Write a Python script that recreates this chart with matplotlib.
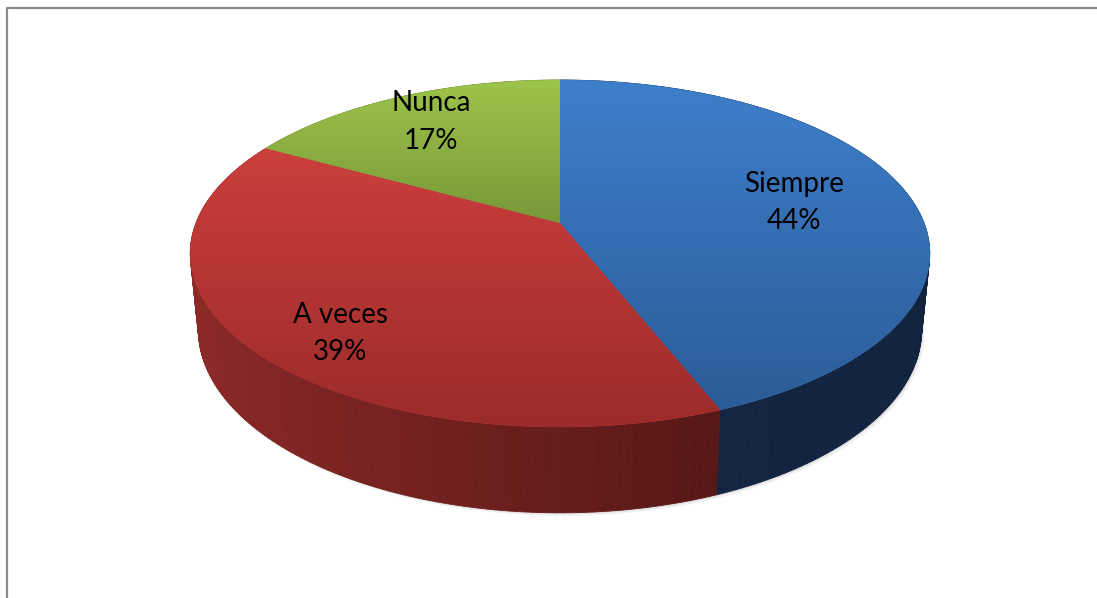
import numpy as np
import matplotlib
matplotlib.use("Agg")
import matplotlib.pyplot as plt
from matplotlib.colors import LinearSegmentedColormap
from matplotlib.patches import Polygon
from matplotlib.collections import PolyCollection

categories = ["Siempre", "A veces", "Nunca"]
percentages = [44, 39, 17]

# top face gradient (upper edge -> lower edge) and side gradient (left -> right)
top_light = ["#3e7fcb", "#cb3f3c", "#9dc44b"]
top_dark = ["#2c5c98", "#9b2b2a", "#789839"]
side_light = ["#15294a", "#8e2a27", "#5d7a2a"]
side_dark = ["#12233e", "#3d0f0f", "#3d5219"]
label_radius = [0.67, 0.8, 0.78]
label_turn = [0, -6, 0]  # degrees

W, H = 1097, 598
CX, CY = 560, 223
SCALE = 364
ELEV = np.radians(27.5)
DIST = 5.05
THICK = 0.239


def project(X, Y, Z):
    depth = Y * np.cos(ELEV) - Z * np.sin(ELEV)
    f = SCALE / (1 + depth / DIST)
    u = X * f
    v = (Y * np.sin(ELEV) + Z * np.cos(ELEV)) * f
    return CX + u, CY - v


def mix(c1, c2, t):
    a = np.array(matplotlib.colors.to_rgb(c1))
    b = np.array(matplotlib.colors.to_rgb(c2))
    return tuple(a * (1 - t) + b * t)


fig = plt.figure(figsize=(W / 100, H / 100), dpi=100)
ax = fig.add_axes([0, 0, 1, 1])
ax.set_xlim(0, W)
ax.set_ylim(H, 0)
ax.axis("off")

# chart area frame
ax.plot([7, 7, W + 5], [H + 5, 8, 8], color="#8a8a8a", lw=1.6, solid_capstyle="butt", zorder=1)

fracs = np.array(percentages, dtype=float) / sum(percentages)
bounds = np.concatenate([[0], np.cumsum(fracs)]) * 2 * np.pi

# faint shadow under the rim
t_all = np.linspace(0, 2 * np.pi, 400)
sx, sy = project(np.sin(t_all), np.cos(t_all), -THICK)
for dx, dy, al in [(3, 3, 0.10), (1.5, 1.5, 0.15)]:
    ax.add_patch(Polygon(np.column_stack([sx + dx, sy + dy]), closed=True,
                         facecolor="#808080", edgecolor="none", alpha=al, zorder=2))

# side walls as thin strips sorted back to front
strips, colors, depths = [], [], []
for i in range(len(categories)):
    th = np.linspace(bounds[i], bounds[i + 1], max(int(fracs[i] * 360), 4))
    for a0, a1 in zip(th[:-1], th[1:]):
        X = np.array([np.sin(a0), np.sin(a1)])
        Y = np.array([np.cos(a0), np.cos(a1)])
        tx, ty = project(X, Y, 0)
        bx, by = project(X, Y, -THICK)
        strips.append([(tx[0], ty[0]), (tx[1], ty[1]), (bx[1], by[1]), (bx[0], by[0])])
        tmid = (np.sin((a0 + a1) / 2) + 1) / 2
        colors.append(mix(side_light[i], side_dark[i], tmid))
        depths.append(np.cos((a0 + a1) / 2))
order = np.argsort(depths)[::-1]
ax.add_collection(PolyCollection([strips[j] for j in order], facecolors=[colors[j] for j in order],
                                 edgecolors=[colors[j] for j in order], linewidths=0.6, zorder=3))

# top faces with vertical gradient
for i in range(len(categories)):
    th = np.linspace(bounds[i], bounds[i + 1], max(int(fracs[i] * 360), 4))
    ax_, ay_ = project(np.sin(th), np.cos(th), 0)
    px = np.concatenate([[CX], ax_])
    py = np.concatenate([[CY], ay_])
    verts = np.column_stack([px, py])
    mid = mix(top_light[i], top_dark[i], 0.5)
    ax.add_patch(Polygon(verts, closed=True, facecolor=mid, edgecolor=mid, lw=0.5, zorder=4))
    clip = Polygon(verts, closed=True, facecolor="none", edgecolor="none", transform=ax.transData)
    ax.add_patch(clip)
    cmap = LinearSegmentedColormap.from_list("g%d" % i, [top_light[i], top_dark[i]])
    grad = np.linspace(0, 1, 256).reshape(-1, 1)
    im = ax.imshow(grad, cmap=cmap, extent=(px.min(), px.max(), py.max(), py.min()),
                   origin="upper", aspect="auto", interpolation="bilinear", zorder=5)
    im.set_clip_path(clip)

    a_mid = (bounds[i] + bounds[i + 1]) / 2 + np.radians(label_turn[i])
    r = label_radius[i]
    lx, ly = project(r * np.sin(a_mid), r * np.cos(a_mid), 0)
    ax.text(lx, ly, "%s\n%d%%" % (categories[i], percentages[i]), ha="center", va="center",
            fontsize=20, family="Lato", color="black", linespacing=1.55, zorder=6)

ax.set_xlim(0, W)
ax.set_ylim(H, 0)
fig.savefig("out.png", dpi=100, facecolor="white")
